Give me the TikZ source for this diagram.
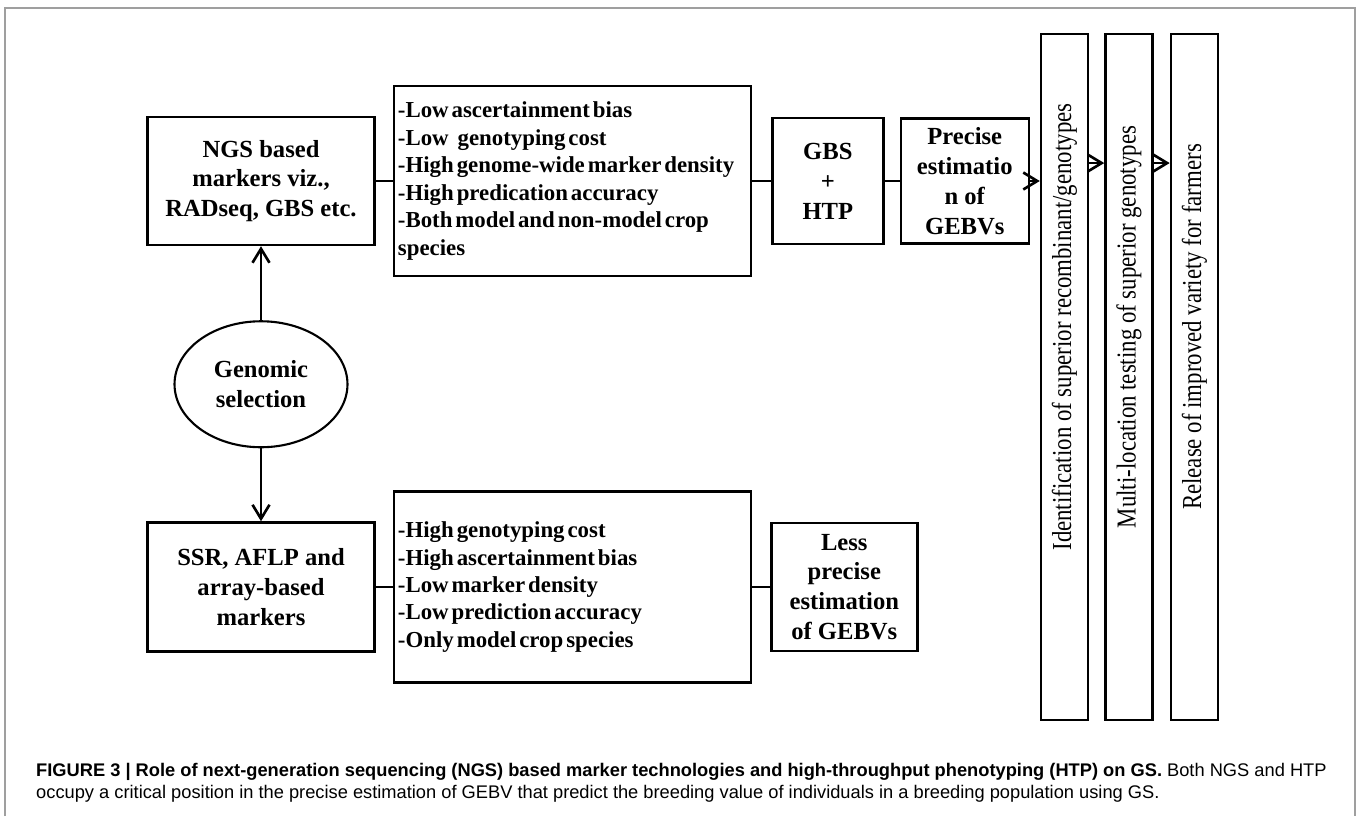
\documentclass[tikz,border=0pt]{standalone}
\usepackage{fontspec}
\setmainfont{Liberation Serif}
\setsansfont{Liberation Sans}
\usetikzlibrary{positioning,arrows.meta,shapes.geometric}
\newcommand{\tightwords}{\spaceskip=0.13em plus 0.05em\relax}

\begin{document}
\begin{tikzpicture}[
    x=0.02cm, y=-0.02cm,
    node distance=0.34cm,
    box/.style={
        draw,
        line width=1.4pt,
        align=center,
        font=\fontsize{14}{17}\selectfont\bfseries,
        minimum width=4.54cm,
        minimum height=2.56cm
    },
    listbox/.style={
        draw,
        line width=1.4pt,
        align=left,
        font=\fontsize{13}{15.6}\selectfont\bfseries,
        execute at begin node=\tightwords,
        text width=6.98cm,
        inner xsep=0.08cm,
        minimum height=3.8cm
    },
    vbox/.style={
        draw,
        line width=1.4pt,
        inner sep=0pt,
        minimum width=0.94cm,
        minimum height=13.72cm
    },
    vtext/.style={
        rotate=90,
        font=\fontsize{13}{15}\selectfont
    },
    link/.style={line width=1.4pt},
    arrow/.style={line width=1.5pt, -{Straight Barb[length=2.8mm,width=3.4mm]}}
]
\useasboundingbox (0,0) rectangle (1358,816);

% outer frame
\draw[gray!75, line width=0.8pt] (5,816) -- (5,8) -- (1355,8) -- (1355,816);

\node[box] (ngs) at (261,181) {NGS based\\markers viz.,\\RADseq, GBS etc.};
\node[listbox, right=of ngs] (pros) {-Low ascertainment bias\\-Low \ \ genotyping cost\\-High genome-wide marker density\\-High predication accuracy\\-Both model and non-model crop\\species};
\node[box, minimum width=2.22cm, minimum height=2.52cm, right=0.38cm of pros] (gbs) {GBS\\+\\HTP};
\node[box, minimum width=2.56cm, minimum height=2.5cm, right=0.3cm of gbs] (gebv) {Precise\\estimatio\\n of\\GEBVs};

\node[draw, ellipse, line width=1.2pt, align=center, font=\fontsize{14}{17}\selectfont\bfseries,
      minimum width=3.46cm, minimum height=2.52cm, below=1.48cm of ngs] (gs) {Genomic\\selection};

\node[box, minimum height=2.58cm, below=1.46cm of gs] (ssr) {SSR, AFLP and\\array-based\\markers};
\node[listbox, minimum height=3.82cm, right=of ssr] (cons) {-High genotyping cost\\-High ascertainment bias\\-Low marker density\\-Low prediction accuracy\\-Only model crop species};
\node[box, minimum width=2.92cm, right=0.36cm of cons] (less) {Less\\precise\\estimation\\of GEBVs};

% vertical steps
\node[vbox] (ident) at (1064.5,377) {};
\node[vbox, right=0.3cm of ident] (trial) {};
\node[vbox, right=0.32cm of trial] (release) {};
\node[vtext] at ([yshift=1cm]ident.center) {\scalebox{1}[1.2]{Identification of superior recombinant/genotypes}};
\node[vtext] at ([yshift=1cm]trial.center) {\scalebox{1}[1.2]{Multi-location testing of superior genotypes}};
\node[vtext] at ([yshift=1cm]release.center) {\scalebox{1}[1.2]{Release of improved variety for farmers}};

\draw[arrow] (gs) -- (ngs);
\draw[arrow] (gs) -- (ssr);
\draw[link] (ngs) -- (pros);
\draw[link] (pros) -- (gbs);
\draw[link] (gbs) -- (gebv);
\draw[arrow] (gebv.east) -- (gebv.east -| ident.west);
\draw[arrow] ([yshift=4.28cm]ident.east) -- ([yshift=4.28cm]trial.west);
\draw[arrow] ([yshift=4.28cm]trial.east) -- ([yshift=4.28cm]release.west);
\draw[link] (ssr) -- (cons);
\draw[link] (cons) -- (less);

% caption
\node[anchor=base west, font=\sffamily\fontsize{10.4}{12}\selectfont] (capa) at (30,776)
    {\textbf{FIGURE 3 | Role of next-generation sequencing (NGS) based marker technologies and high-throughput phenotyping (HTP) on GS.} Both NGS and HTP};
\node[anchor=base west, font=\sffamily\fontsize{10.4}{12}\selectfont] (capb) at (30,798)
    {occupy a critical position in the precise estimation of GEBV that predict the breeding value of individuals in a breeding population using GS.};

\end{tikzpicture}
\end{document}
